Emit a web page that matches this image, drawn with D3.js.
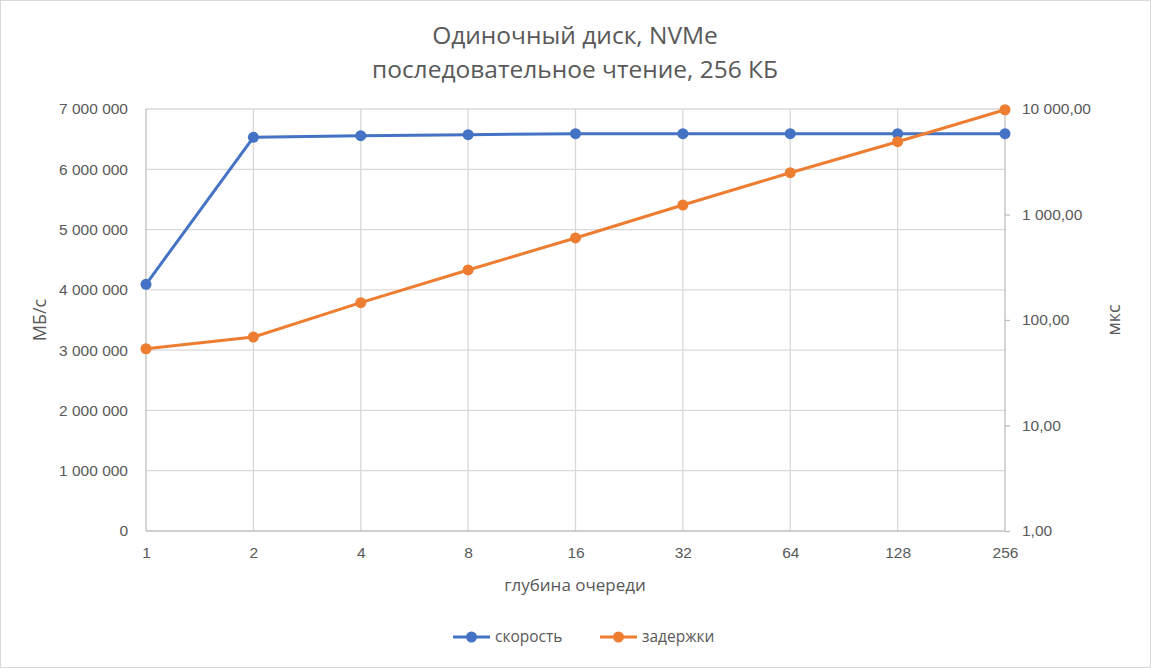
<!DOCTYPE html>
<html><head><meta charset="utf-8">
<script src="https://cdn.jsdelivr.net/npm/d3@7"></script>
<style>
body{margin:0;background:#fff;}
svg{display:block;font-family:"Segoe UI","Open Sans","Noto Sans",sans-serif;}
</style></head>
<body>
<svg id="c" width="1151" height="668"></svg>
<script>
const categories = ["1","2","4","8","16","32","64","128","256"];
const speed = [4092000, 6531000, 6557000, 6574000, 6590000, 6590000, 6590000, 6590000, 6590000];
const latency = [53.4, 69, 146, 298, 599, 1230, 2490, 4900, 9840];
const leftTicks = [0,1000000,2000000,3000000,4000000,5000000,6000000,7000000];
const rightTicks = [1,10,100,1000,10000];
const seriesNames = ["скорость","задержки"];
const colors = ["#4472C4","#ED7D31"];

const svg = d3.select("#c");
const W=1151,H=668;
svg.append("rect").attr("x",0.5).attr("y",0.5).attr("width",W-1).attr("height",H-1)
  .attr("fill","#fff").attr("stroke","#d9d9d9");

const L=146,R=1005,T=109,B=531;
const x = d3.scalePoint().domain(categories).range([L,R]);
const yL = d3.scaleLinear().domain([0,7000000]).range([B,T]);
const yR = d3.scaleLog().domain([1,10000]).range([B,T]);
const txt="#595959";
const fmtL = v => d3.format(",")(v).replace(/,/g," ");
const fmtR = v => d3.format(",.2f")(v).replace(/,/g," ").replace(".",",");

// gridlines
svg.append("g").selectAll("line").data(leftTicks.slice(1)).join("line")
  .attr("x1",L).attr("x2",R).attr("y1",d=>yL(d)).attr("y2",d=>yL(d))
  .attr("stroke","#d9d9d9").attr("stroke-width",1.3);
svg.append("g").selectAll("line").data(categories.slice(1,-1)).join("line")
  .attr("x1",d=>x(d)).attr("x2",d=>x(d)).attr("y1",T).attr("y2",B)
  .attr("stroke","#d9d9d9").attr("stroke-width",1.3);
// axis lines
svg.append("line").attr("x1",L).attr("x2",L).attr("y1",T).attr("y2",B).attr("stroke","#bfbfbf").attr("stroke-width",1.3);
svg.append("line").attr("x1",R).attr("x2",R).attr("y1",T).attr("y2",B).attr("stroke","#bfbfbf").attr("stroke-width",1.3);
svg.append("line").attr("x1",L).attr("x2",R).attr("y1",B).attr("y2",B).attr("stroke","#bfbfbf").attr("stroke-width",1.3);

// left axis
const gl = svg.append("g").attr("transform",`translate(${L},0)`)
  .call(d3.axisLeft(yL).tickValues(leftTicks).tickFormat(fmtL).tickSize(0).tickPadding(18));
gl.select(".domain").remove();
gl.selectAll("text").attr("fill",txt).style("font-size","15.5px").style("font-family","inherit");
// right axis
const gr = svg.append("g").attr("transform",`translate(${R},0)`)
  .call(d3.axisRight(yR).tickValues(rightTicks).tickFormat(fmtR).tickSize(5).tickPadding(12));
gr.select(".domain").remove();
gr.selectAll("line").attr("stroke","#bfbfbf").attr("stroke-width",1.3);
gr.selectAll("text").attr("fill",txt).style("font-size","15.5px").style("font-family","inherit");
// x axis
const gx = svg.append("g").attr("transform",`translate(0,${B})`)
  .call(d3.axisBottom(x).tickSize(0).tickPadding(16));
gx.select(".domain").remove();
gx.selectAll("text").attr("fill",txt).style("font-size","15.5px").style("font-family","inherit");

// titles
svg.append("text").attr("x",575).attr("y",44).attr("text-anchor","middle").attr("fill",txt)
  .style("font-size","24.5px").text("Одиночный диск, NVMe");
svg.append("text").attr("x",575).attr("y",78).attr("text-anchor","middle").attr("fill",txt)
  .style("font-size","24.5px").text("последовательное чтение, 256 КБ");
svg.append("text").attr("x",575).attr("y",591).attr("text-anchor","middle").attr("fill",txt)
  .style("font-size","17px").text("глубина очереди");
svg.append("text").attr("transform","translate(46,320) rotate(-90)").attr("text-anchor","middle").attr("fill",txt)
  .style("font-size","18px").text("МБ/с");
svg.append("text").attr("transform","translate(1120,320) rotate(-90)").attr("text-anchor","middle").attr("fill",txt)
  .style("font-size","18px").text("мкс");

// series
const series = [
  {vals:speed, y:yL},
  {vals:latency, y:yR}
];
series.forEach((s,i)=>{
  const pts = categories.map((c,j)=>[x(c), s.y(s.vals[j])]);
  svg.append("path").attr("d",d3.line()(pts)).attr("fill","none")
    .attr("stroke",colors[i]).attr("stroke-width",3).attr("stroke-linejoin","round");
  svg.append("g").selectAll("circle").data(pts).join("circle")
    .attr("cx",d=>d[0]).attr("cy",d=>d[1]).attr("r",5.5).attr("fill",colors[i]);
});

// legend
const legX=[453,600];
seriesNames.forEach((n,i)=>{
  const g=svg.append("g").attr("transform",`translate(${legX[i]},637)`);
  g.append("line").attr("x1",0).attr("x2",37).attr("stroke",colors[i]).attr("stroke-width",3);
  g.append("circle").attr("cx",18.5).attr("cy",0).attr("r",5.5).attr("fill",colors[i]);
  g.append("text").attr("x",42).attr("y",5).attr("fill",txt).style("font-size","15.5px").text(n);
});
</script>
</body></html>
